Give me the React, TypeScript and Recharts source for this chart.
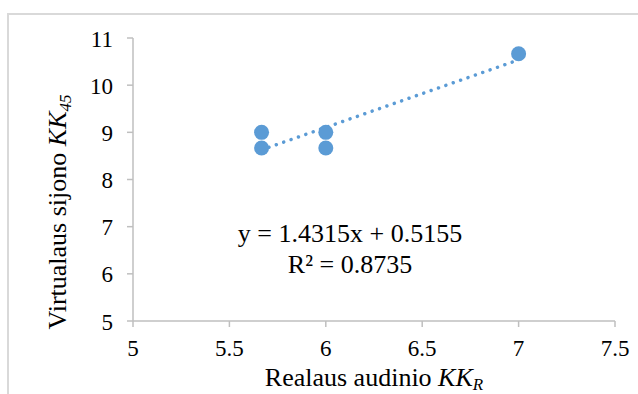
import { ReferenceLine, Scatter, ScatterChart, XAxis, YAxis, Label } from "recharts";

// measured points (x = real tissue KK_R, y = virtual string KK_45)
const xValues = [5.667, 5.667, 6, 6, 7];
const yValues = [9, 8.667, 9, 8.667, 10.667];
const xTicks = [5, 5.5, 6, 6.5, 7, 7.5];
const yTicks = [5, 6, 7, 8, 9, 10, 11];

// linear trendline as printed on the chart
const slope = 1.4315;
const intercept = 0.5155;
const equationText = "y = 1.4315x + 0.5155";
const r2Text = "R² = 0.8735";

const points = xValues.map((x, i) => ({ x, y: yValues[i] }));
const xMin = Math.min(...xValues);
const xMax = Math.max(...xValues);

const BLUE = "#5B9BD5";
const AXIS = "#bfbfbf";
const FONT = "Liberation Serif, serif";

const Dot = (props: any) => <circle cx={props.cx} cy={props.cy} r={7.5} fill={BLUE} />;

const renderXTick = (props: any) => (
  <text
    key={props.index}
    x={props.x}
    y={props.y + 27}
    textAnchor="middle"
    fontFamily={FONT}
    fontSize="23px"
    fill="#000"
  >
    {props.payload.value}
  </text>
);

const renderYTick = (props: any) => (
  <text
    key={props.index}
    x={props.x - 12}
    y={props.y + 8.5}
    textAnchor="end"
    fontFamily={FONT}
    fontSize="23px"
    fill="#000"
  >
    {props.payload.value}
  </text>
);

const XTitle = ({ viewBox }: any) => {
  const cx = viewBox.x + viewBox.width / 2;
  return (
    <text x={cx} y={386} textAnchor="middle" fontFamily={FONT} fontSize={26} fill="#000">
      Realaus audinio{" "}
      <tspan fontStyle="italic">KK</tspan>
      <tspan fontStyle="italic" fontSize={17} dy={4}>R</tspan>
    </text>
  );
};

const YTitle = () => (
  <text
    x={66}
    y={212}
    transform="rotate(-90 66 212)"
    textAnchor="middle"
    fontFamily={FONT}
    fontSize={26}
    fill="#000"
  >
    Virtualaus sijono{" "}
    <tspan fontStyle="italic">KK</tspan>
    <tspan fontStyle="italic" fontSize={17} dy={5}>45</tspan>
  </text>
);

export default function App() {
  return (
    <div
      style={{
        position: "absolute",
        left: 0,
        top: 0,
        width: 638,
        height: 394,
        overflow: "hidden",
        background: "#fff",
        fontFamily: FONT,
      }}
    >
      <div
        style={{
          position: "absolute",
          left: 7,
          top: 13,
          width: 700,
          height: 500,
          border: "2px solid #d9d9d9",
        }}
      />
      <div style={{ position: "absolute", left: 0, top: 0 }}>
        <ScatterChart width={638} height={394} margin={{ top: 38, right: 23, bottom: 0, left: 0 }}>
          <XAxis
            type="number"
            dataKey="x"
            domain={[5, 7.5]}
            ticks={xTicks}
            height={73}
            axisLine={{ stroke: AXIS, strokeWidth: 1.5 }}
            tickLine={{ stroke: AXIS, strokeWidth: 1.5 }}
            tickSize={6}
            tick={renderXTick}
          >
            <Label content={<XTitle />} />
          </XAxis>
          <YAxis
            type="number"
            dataKey="y"
            domain={[5, 11]}
            ticks={yTicks}
            width={133}
            axisLine={{ stroke: AXIS, strokeWidth: 1.5 }}
            tickLine={{ stroke: AXIS, strokeWidth: 1.5 }}
            tickSize={6}
            tick={renderYTick}
          >
            <Label content={<YTitle />} />
          </YAxis>
          <ReferenceLine
            segment={[
              { x: xMin, y: slope * xMin + intercept },
              { x: xMax, y: slope * xMax + intercept },
            ]}
            stroke={BLUE}
            strokeWidth={3.5}
            strokeLinecap="round"
            strokeDasharray="0.01 7.8"
          />
          <Scatter data={points} shape={<Dot />} isAnimationActive={false} />
        </ScatterChart>
      </div>
      <svg width={638} height={394} style={{ position: "absolute", left: 0, top: 0, pointerEvents: "none" }}>
        <text x={350} y={242} textAnchor="middle" fontFamily={FONT} fontSize={26} fill="#000">
          {equationText}
        </text>
        <text x={350} y={273} textAnchor="middle" fontFamily={FONT} fontSize={26} fill="#000">
          {r2Text}
        </text>
      </svg>
    </div>
  );
}
